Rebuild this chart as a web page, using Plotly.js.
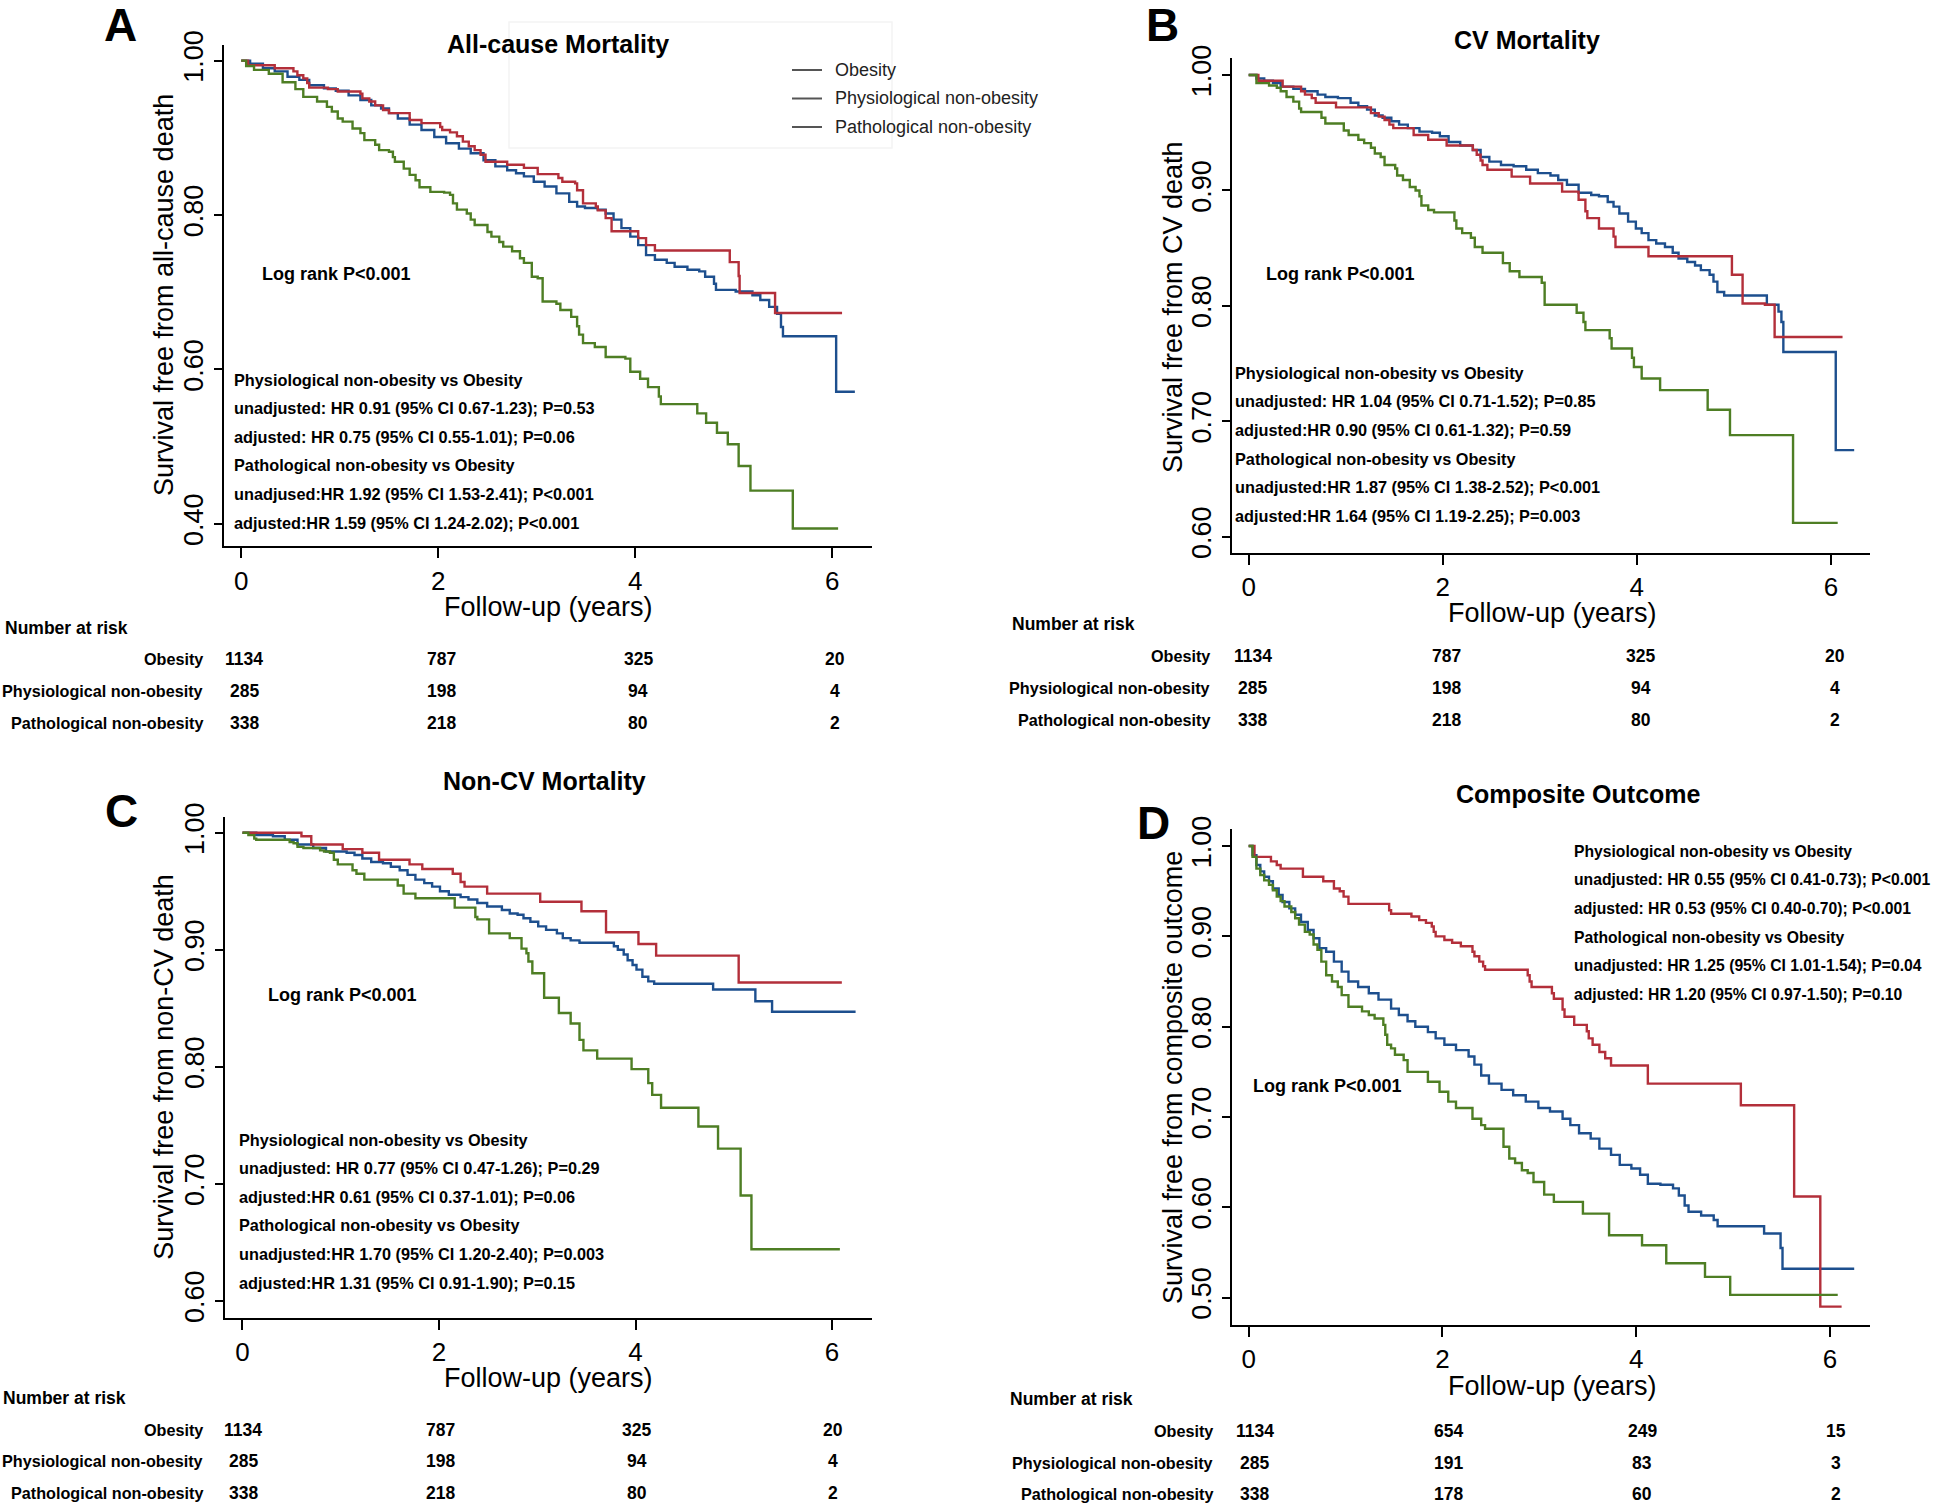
<!DOCTYPE html>
<html>
<head>
<meta charset="utf-8">
<script src="https://cdn.plot.ly/plotly-3.0.1.min.js"></script>
<style>
  html, body { margin: 0; padding: 0; background: #fff; }
  #chart { width: 1944px; height: 1506px; }
</style>
</head>
<body>
<div id="chart"></div>
<script>
// ---------------- DATA ----------------
const groupNames = ["Obesity", "Physiological non-obesity", "Pathological non-obesity"];
const riskTimes = [0, 2, 4, 6];
const xTicks = [0, 2, 4, 6];

// Panel A: All-cause mortality
const A_title = "All-cause Mortality";
const A_ylabel = "Survival free from all-cause death";
const A_yticks = [0.40, 0.60, 0.80, 1.00];
const A_obes_t = [0,0.09,0.22,0.34,0.47,0.59,0.69,0.84,0.96,1.09,1.21,1.32,1.42,1.50,1.59,1.71,1.83,1.96,2.08,2.21,2.33,2.46,2.58,2.70,2.79,2.87,2.97,3.08,3.20,3.33,3.41,3.49,3.62,3.70,3.78,3.86,3.95,4.03,4.11,4.20,4.32,4.40,4.53,4.65,4.71,4.80,4.82,5.02,5.19,5.27,5.36,5.44,5.48,5.50,6.04,6.23];
const A_obes_s = [1,0.996,0.990,0.986,0.979,0.975,0.968,0.964,0.961,0.955,0.949,0.942,0.938,0.932,0.925,0.917,0.910,0.901,0.893,0.886,0.880,0.871,0.863,0.858,0.854,0.850,0.843,0.837,0.828,0.817,0.811,0.809,0.807,0.802,0.794,0.783,0.772,0.761,0.748,0.742,0.738,0.733,0.729,0.727,0.720,0.711,0.703,0.701,0.696,0.690,0.681,0.672,0.655,0.643,0.571,0.571];
const A_phys_t = [0,0.07,0.34,0.53,0.57,0.63,0.67,0.69,0.88,0.98,1.21,1.23,1.30,1.36,1.44,1.50,1.71,1.83,2.02,2.04,2.12,2.19,2.25,2.31,2.37,2.43,2.48,2.70,2.87,3.01,3.22,3.26,3.39,3.41,3.47,3.60,3.62,3.70,3.76,4.03,4.11,4.20,4.96,5.05,5.06,5.42,6.10];
const A_phys_s = [1,0.994,0.990,0.986,0.981,0.977,0.971,0.965,0.963,0.960,0.957,0.951,0.947,0.942,0.936,0.932,0.923,0.919,0.914,0.910,0.907,0.902,0.895,0.889,0.884,0.878,0.869,0.865,0.861,0.853,0.848,0.843,0.841,0.832,0.815,0.811,0.806,0.796,0.779,0.770,0.761,0.754,0.739,0.721,0.699,0.673,0.673];
const A_path_t = [0,0.05,0.13,0.28,0.42,0.55,0.63,0.77,0.87,0.92,0.98,1.03,1.13,1.21,1.25,1.36,1.40,1.50,1.54,1.56,1.65,1.71,1.77,1.81,1.92,2.06,2.12,2.15,2.19,2.29,2.33,2.37,2.50,2.54,2.62,2.66,2.75,2.83,2.87,2.95,3.01,3.06,3.20,3.24,3.35,3.41,3.43,3.47,3.59,3.70,3.90,3.95,4.05,4.13,4.24,4.26,4.63,4.72,4.83,4.94,5.05,5.17,5.60,6.06];
const A_path_s = [1,0.993,0.988,0.983,0.972,0.963,0.953,0.947,0.940,0.934,0.925,0.921,0.912,0.906,0.897,0.891,0.884,0.882,0.875,0.869,0.860,0.852,0.845,0.836,0.830,0.829,0.826,0.815,0.807,0.802,0.794,0.787,0.778,0.772,0.765,0.759,0.753,0.744,0.738,0.720,0.718,0.688,0.685,0.677,0.668,0.656,0.645,0.634,0.629,0.616,0.614,0.597,0.588,0.577,0.565,0.555,0.543,0.531,0.518,0.503,0.475,0.443,0.394,0.394];
const A_logrank = "Log rank P<0.001";
const A_hr = ["Physiological non-obesity vs Obesity",
  "unadjusted: HR 0.91 (95% CI 0.67-1.23); P=0.53",
  "adjusted: HR 0.75 (95% CI 0.55-1.01); P=0.06",
  "Pathological non-obesity vs Obesity",
  "unadjused:HR 1.92 (95% CI 1.53-2.41); P<0.001",
  "adjusted:HR 1.59 (95% CI 1.24-2.02); P<0.001"];
const A_risk = [[1134, 787, 325, 20], [285, 198, 94, 4], [338, 218, 80, 2]];

// Panel B: CV mortality
const B_title = "CV Mortality";
const B_ylabel = "Survival free from CV death";
const B_yticks = [0.60, 0.70, 0.80, 0.90, 1.00];
const B_obes_t = [0,0.08,0.16,0.25,0.33,0.46,0.58,0.71,0.79,0.92,1.05,1.13,1.22,1.30,1.38,1.47,1.55,1.64,1.76,1.89,1.97,2.06,2.18,2.31,2.39,2.48,2.60,2.73,2.86,2.98,3.11,3.19,3.28,3.40,3.53,3.61,3.70,3.76,3.82,3.91,3.99,4.05,4.12,4.20,4.29,4.37,4.43,4.52,4.60,4.66,4.75,4.79,4.83,4.90,5.34,5.46,5.49,5.51,6.05,6.24];
const B_obes_s = [1,0.997,0.995,0.993,0.990,0.988,0.986,0.983,0.981,0.980,0.976,0.973,0.970,0.965,0.963,0.960,0.957,0.954,0.951,0.950,0.947,0.942,0.939,0.935,0.929,0.925,0.922,0.921,0.918,0.915,0.913,0.909,0.905,0.898,0.896,0.895,0.890,0.886,0.880,0.873,0.867,0.863,0.857,0.854,0.851,0.846,0.841,0.838,0.835,0.831,0.827,0.821,0.812,0.809,0.801,0.795,0.786,0.760,0.675,0.675];
const B_phys_t = [0,0.10,0.35,0.54,0.58,0.65,0.69,0.90,1.26,1.34,1.40,1.45,1.49,1.70,1.85,2.04,2.31,2.35,2.39,2.41,2.46,2.71,2.90,3.23,3.40,3.47,3.49,3.61,3.76,3.78,4.12,4.98,5.09,5.32,5.42,6.12];
const B_phys_s = [1,0.995,0.990,0.986,0.983,0.980,0.976,0.972,0.967,0.964,0.961,0.957,0.954,0.948,0.944,0.939,0.935,0.931,0.926,0.922,0.918,0.912,0.906,0.899,0.892,0.882,0.876,0.867,0.860,0.851,0.843,0.827,0.802,0.801,0.773,0.773];
const B_path_t = [0,0.08,0.21,0.29,0.33,0.39,0.46,0.52,0.54,0.75,0.79,0.98,1.03,1.13,1.19,1.26,1.30,1.36,1.40,1.51,1.53,1.59,1.66,1.72,1.76,1.78,1.85,1.91,2.12,2.14,2.20,2.29,2.33,2.41,2.62,2.69,2.79,3.02,3.05,3.38,3.45,3.47,3.72,3.74,3.95,3.97,4.05,4.24,4.73,4.96,5.61,6.07];
const B_path_s = [1,0.993,0.991,0.989,0.986,0.981,0.977,0.971,0.968,0.963,0.958,0.952,0.948,0.944,0.941,0.937,0.932,0.929,0.922,0.919,0.913,0.909,0.903,0.900,0.895,0.887,0.883,0.881,0.874,0.867,0.863,0.859,0.851,0.846,0.837,0.830,0.825,0.820,0.801,0.794,0.786,0.779,0.772,0.763,0.755,0.747,0.737,0.727,0.710,0.688,0.612,0.612];
const B_logrank = "Log rank P<0.001";
const B_hr = ["Physiological non-obesity vs Obesity",
  "unadjusted: HR 1.04 (95% CI 0.71-1.52); P=0.85",
  "adjusted:HR 0.90 (95% CI 0.61-1.32); P=0.59",
  "Pathological non-obesity vs Obesity",
  "unadjusted:HR 1.87 (95% CI 1.38-2.52); P<0.001",
  "adjusted:HR 1.64 (95% CI 1.19-2.25); P=0.003"];
const B_risk = [[1134, 787, 325, 20], [285, 198, 94, 4], [338, 218, 80, 2]];

// Panel C: Non-CV mortality
const C_title = "Non-CV Mortality";
const C_ylabel = "Survival free from non-CV death";
const C_yticks = [0.60, 0.70, 0.80, 0.90, 1.00];
const C_obes_t = [0,0.14,0.31,0.43,0.56,0.72,0.85,1.06,1.14,1.22,1.31,1.43,1.51,1.60,1.68,1.76,1.85,1.93,2.01,2.10,2.22,2.30,2.39,2.49,2.64,2.72,2.80,2.86,2.93,3.01,3.09,3.20,3.26,3.34,3.43,3.78,3.82,3.88,3.92,3.97,4.01,4.07,4.13,4.19,4.79,5.22,5.39,6.24];
const C_obes_s = [1,0.998,0.997,0.994,0.990,0.987,0.984,0.983,0.981,0.978,0.975,0.974,0.971,0.968,0.964,0.960,0.957,0.954,0.950,0.947,0.945,0.943,0.940,0.937,0.934,0.931,0.930,0.927,0.924,0.920,0.917,0.914,0.910,0.908,0.906,0.903,0.900,0.896,0.891,0.887,0.883,0.877,0.873,0.871,0.866,0.856,0.847,0.847];
const C_phys_t = [0,0.60,0.70,1.02,1.22,1.39,1.70,1.83,2.14,2.22,2.26,2.49,3.03,3.45,3.70,4.03,4.21,5.05,6.10];
const C_phys_s = [1,0.997,0.990,0.986,0.983,0.977,0.973,0.969,0.965,0.958,0.954,0.948,0.941,0.933,0.915,0.905,0.895,0.872,0.872];
const C_path_t = [0,0.06,0.12,0.14,0.48,0.52,0.56,0.62,0.79,0.83,0.89,0.93,0.97,1.12,1.16,1.24,1.58,1.64,1.76,2.16,2.37,2.39,2.51,2.72,2.84,2.89,2.91,2.95,3.07,3.22,3.34,3.43,3.47,3.61,3.96,4.13,4.17,4.26,4.64,4.84,5.07,5.18,6.08];
const C_path_s = [1,0.998,0.995,0.994,0.992,0.991,0.988,0.987,0.985,0.984,0.983,0.977,0.973,0.968,0.965,0.960,0.955,0.948,0.944,0.936,0.928,0.926,0.914,0.910,0.901,0.897,0.890,0.880,0.859,0.846,0.837,0.823,0.814,0.807,0.798,0.786,0.776,0.765,0.749,0.730,0.690,0.644,0.644];
const C_logrank = "Log rank P<0.001";
const C_hr = ["Physiological non-obesity vs Obesity",
  "unadjusted: HR 0.77 (95% CI 0.47-1.26); P=0.29",
  "adjusted:HR 0.61 (95% CI 0.37-1.01); P=0.06",
  "Pathological non-obesity vs Obesity",
  "unadjusted:HR 1.70 (95% CI 1.20-2.40); P=0.003",
  "adjusted:HR 1.31 (95% CI 0.91-1.90); P=0.15"];
const C_risk = [[1134, 787, 325, 20], [285, 198, 94, 4], [338, 218, 80, 2]];

// Panel D: Composite outcome
const D_title = "Composite Outcome";
const D_ylabel = "Survival free from composite outcome";
const D_yticks = [0.50, 0.60, 0.70, 0.80, 0.90, 1.00];
const D_obes_t = [0,0.04,0.08,0.12,0.16,0.21,0.25,0.31,0.35,0.42,0.48,0.54,0.61,0.67,0.73,0.80,0.88,0.96,1.03,1.13,1.24,1.34,1.47,1.55,1.64,1.72,1.85,1.93,2.02,2.14,2.27,2.33,2.40,2.48,2.61,2.73,2.86,2.99,3.11,3.24,3.32,3.41,3.53,3.62,3.74,3.83,3.95,4.04,4.12,4.25,4.38,4.44,4.50,4.54,4.67,4.80,4.84,5.32,5.49,5.51,6.25];
const D_obes_s = [1,0.990,0.979,0.972,0.966,0.961,0.953,0.946,0.938,0.931,0.924,0.916,0.907,0.898,0.887,0.883,0.872,0.861,0.850,0.844,0.837,0.830,0.820,0.813,0.806,0.800,0.794,0.787,0.780,0.774,0.767,0.758,0.746,0.737,0.730,0.724,0.717,0.710,0.706,0.698,0.691,0.682,0.676,0.665,0.658,0.647,0.643,0.636,0.626,0.625,0.621,0.613,0.602,0.595,0.591,0.586,0.579,0.571,0.555,0.532,0.532];
const D_phys_t = [0,0.06,0.23,0.29,0.33,0.56,0.77,0.88,0.94,0.98,1.03,1.45,1.47,1.68,1.76,1.83,1.89,1.91,1.93,2.02,2.10,2.19,2.31,2.33,2.38,2.42,2.44,2.88,2.90,2.92,3.13,3.15,3.24,3.26,3.36,3.49,3.51,3.55,3.62,3.68,3.74,4.12,5.08,5.63,5.90,6.12];
const D_phys_s = [1,0.988,0.983,0.979,0.975,0.966,0.961,0.953,0.950,0.944,0.936,0.929,0.925,0.922,0.918,0.915,0.911,0.905,0.900,0.896,0.893,0.889,0.883,0.878,0.872,0.867,0.863,0.857,0.850,0.844,0.837,0.831,0.819,0.811,0.802,0.795,0.787,0.780,0.772,0.765,0.757,0.737,0.713,0.612,0.490,0.490];
const D_path_t = [0,0.04,0.08,0.12,0.16,0.21,0.25,0.29,0.33,0.37,0.44,0.48,0.52,0.58,0.63,0.67,0.71,0.75,0.80,0.86,0.92,0.96,1.03,1.17,1.24,1.30,1.39,1.41,1.43,1.47,1.51,1.60,1.64,1.85,1.97,2.06,2.14,2.31,2.40,2.44,2.63,2.69,2.75,2.82,2.88,2.94,3.05,3.15,3.45,3.72,4.06,4.31,4.71,4.97,6.08];
const D_path_s = [1,0.988,0.975,0.968,0.962,0.957,0.951,0.944,0.939,0.933,0.927,0.920,0.913,0.905,0.902,0.891,0.885,0.872,0.857,0.850,0.844,0.835,0.822,0.817,0.813,0.809,0.802,0.791,0.780,0.776,0.769,0.763,0.750,0.739,0.728,0.717,0.710,0.698,0.691,0.687,0.667,0.654,0.649,0.641,0.638,0.628,0.614,0.606,0.593,0.569,0.558,0.538,0.523,0.503,0.503];
const D_logrank = "Log rank P<0.001";
const D_hr = ["Physiological non-obesity vs Obesity",
  "unadjusted: HR 0.55 (95% CI 0.41-0.73); P<0.001",
  "adjusted: HR 0.53 (95% CI 0.40-0.70); P<0.001",
  "Pathological non-obesity vs Obesity",
  "unadjusted: HR 1.25 (95% CI 1.01-1.54); P=0.04",
  "adjusted: HR 1.20 (95% CI 0.97-1.50); P=0.10"];
const D_risk = [[1134, 654, 249, 15], [285, 191, 83, 3], [338, 178, 60, 2]];

// ---------------- LAYOUT / STYLE ----------------
const W = 1944, H = 1506;
const px = v => v / W;
const py = v => 1 - v / H;
const COLORS = ["#1d4f8e", "#b32f3a", "#4e7e24"];
const BOLD = "'Liberation Sans', Arial, Helvetica, sans-serif";
const REG = "'Liberation Sans', Arial, Helvetica, sans-serif";

const panels = [
  { id: "", letter: "A", title: A_title, ylabel: A_ylabel, yticks: A_yticks,
    curves: [[A_obes_t, A_obes_s], [A_phys_t, A_phys_s], [A_path_t, A_path_s]],
    logrank: A_logrank, hr: A_hr, risk: A_risk,
    geo: { xd: [224, 872], yd: [44.6, 546.3], xr: [-0.175, 6.404], yr: [0.3709, 1.0207],
      letter: [120, 25], title: [558, 44], xt: [548, 607], yt: [164, 295],
      lr: [260, 274], hrx: 232, hrs: 16.3, hry: [379.5, 408, 436.7, 465, 494, 522.5],
      nar: [3, 627.7], rl: 205, ry: [659, 690.7, 723], rsh: 3 } },
  { id: "2", letter: "B", title: B_title, ylabel: B_ylabel, yticks: B_yticks,
    curves: [[B_obes_t, B_obes_s], [B_phys_t, B_phys_s], [B_path_t, B_path_s]],
    logrank: B_logrank, hr: B_hr, risk: B_risk,
    geo: { xd: [1232, 1870], yd: [58.2, 552.6], xr: [-0.172, 6.403], yr: [0.5862, 1.0146],
      letter: [1162, 25], title: [1527, 40], xt: [1552, 612.7], yt: [1172.4, 306.6],
      lr: [1264, 274], hrx: 1233, hrs: 16.3, hry: [373, 401, 430, 458.6, 487, 515.7],
      nar: [1009.5, 624], rl: 1212, ry: [656, 688, 720], rsh: 4 } },
  { id: "3", letter: "C", title: C_title, ylabel: C_ylabel, yticks: C_yticks,
    curves: [[C_obes_t, C_obes_s], [C_phys_t, C_phys_s], [C_path_t, C_path_s]],
    logrank: C_logrank, hr: C_hr, risk: C_risk,
    geo: { xd: [225, 872], yd: [817, 1317.6], xr: [-0.178, 6.407], yr: [0.5856, 1.0135],
      letter: [121, 811], title: [544, 781.4], xt: [548, 1378], yt: [164, 1066.8],
      lr: [266, 994.5], hrx: 237, hrs: 16.3, hry: [1139.6, 1168, 1196.7, 1225.3, 1254.3, 1282.8],
      nar: [1, 1397.5], rl: 205, ry: [1430, 1461, 1493], rsh: 1 } },
  { id: "4", letter: "D", title: D_title, ylabel: D_ylabel, yticks: D_yticks,
    curves: [[D_obes_t, D_obes_s], [D_phys_t, D_phys_s], [D_path_t, D_path_s]],
    logrank: D_logrank, hr: D_hr, risk: D_risk,
    geo: { xd: [1232, 1870], yd: [829, 1324.7], xr: [-0.172, 6.413], yr: [0.470, 1.0189],
      letter: [1153, 823], title: [1578, 794.3], xt: [1552, 1386], yt: [1172.4, 1077.6],
      lr: [1250.5, 1086], hrx: 1572, hrs: 15.7, hry: [851.3, 879.9, 908.4, 937, 965.5, 994],
      nar: [1007.7, 1399], rl: 1215, ry: [1430.8, 1462.7, 1494], rsh: 6 } }
];

const traces = [];
const layout = {
  width: W, height: H,
  margin: { l: 0, r: 0, t: 0, b: 0, pad: 0 },
  paper_bgcolor: "#fff", plot_bgcolor: "rgba(0,0,0,0)",
  showlegend: false,
  annotations: [], shapes: []
};

function txt(x, y, text, opts) {
  layout.annotations.push(Object.assign({
    xref: "paper", yref: "paper", x: px(x), y: py(y), text: text,
    showarrow: false, xanchor: "left", yanchor: "middle",
    font: { family: BOLD, size: 16.2, color: "#000", weight: 700 }
  }, opts || {}));
}

// very faint frame around the legend area of panel A (as in the reference scan)
layout.shapes.push({ type: "rect", xref: "paper", yref: "paper",
  x0: px(509), x1: px(892), y0: py(148), y1: py(22),
  line: { color: "#f4f4f4", width: 1.5 }, fillcolor: "rgba(0,0,0,0)", layer: "below" });

panels.forEach(p => {
  const g = p.geo;
  const xa = "xaxis" + p.id, ya = "yaxis" + p.id;
  const xr = "x" + p.id, yr = "y" + p.id;
  layout[xa] = {
    domain: [px(g.xd[0]), px(g.xd[1])], range: g.xr, anchor: yr,
    showline: true, linecolor: "#000", linewidth: 2,
    ticks: "outside", ticklen: 10, tickwidth: 2, tickcolor: "#000",
    tickvals: xTicks, ticktext: xTicks.map(String),
    tickfont: { family: REG, size: 26, color: "#000" },
    showgrid: false, zeroline: false, fixedrange: true
  };
  layout[ya] = {
    domain: [py(g.yd[1]), py(g.yd[0])], range: g.yr, anchor: xr,
    showline: true, linecolor: "#000", linewidth: 2,
    ticks: "outside", ticklen: 8, tickwidth: 2, tickcolor: "#000",
    tickvals: p.yticks, ticktext: p.yticks.map(v => v.toFixed(2)), tickangle: -90,
    tickfont: { family: REG, size: 27, color: "#000" },
    showgrid: false, zeroline: false, fixedrange: true
  };
  p.curves.forEach((c, i) => {
    traces.push({
      type: "scatter", mode: "lines", x: c[0], y: c[1], xaxis: xr, yaxis: yr,
      name: groupNames[i], line: { shape: "hv", color: COLORS[i], width: 2.4 },
      hoverinfo: "skip"
    });
  });
  txt(g.letter[0], g.letter[1], p.letter, { xanchor: "center",
    font: { family: REG, size: 46, color: "#000", weight: 700 } });
  txt(g.title[0], g.title[1], p.title, { xanchor: "center",
    font: { family: BOLD, size: 25, color: "#000", weight: 700 } });
  txt(g.xt[0], g.xt[1], "Follow-up (years)", { xanchor: "center",
    font: { family: REG, size: 27, color: "#000" } });
  txt(g.yt[0], g.yt[1], p.ylabel, { xanchor: "center", textangle: -90,
    font: { family: REG, size: 27, color: "#000" } });
  txt(g.lr[0], g.lr[1], p.logrank, { font: { family: BOLD, size: 18, color: "#000", weight: 700 } });
  p.hr.forEach((line, k) => txt(g.hrx, g.hry[k], line,
    { font: { family: BOLD, size: g.hrs, color: "#000", weight: 700 } }));
  txt(g.nar[0], g.nar[1], "Number at risk", { font: { family: BOLD, size: 17.5, color: "#000", weight: 700 } });
  groupNames.forEach((nm, r) => {
    txt(g.rl, g.ry[r], nm, { xanchor: "right" });
    riskTimes.forEach((t, k) => {
      layout.annotations.push({
        xref: xr, yref: "paper", x: t, y: py(g.ry[r]), text: String(p.risk[r][k]),
        showarrow: false, xanchor: "center", yanchor: "middle", xshift: g.rsh,
        font: { family: BOLD, size: 17.5, color: "#000", weight: 700 }
      });
    });
  });
});

// legend (panel A): grey key lines with labels
const legY = [70, 98.5, 127];
groupNames.forEach((nm, i) => {
  layout.shapes.push({ type: "line", xref: "paper", yref: "paper",
    x0: px(792), x1: px(822), y0: py(legY[i]), y1: py(legY[i]),
    line: { color: "#555", width: 2 } });
  txt(833, legY[i], nm, { font: { family: REG, size: 18, color: "#222" } });
});

Plotly.newPlot("chart", traces, layout, { staticPlot: true, displayModeBar: false });
</script>
</body>
</html>
